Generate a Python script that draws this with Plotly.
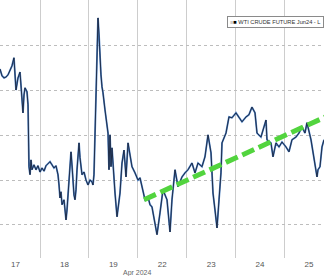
import plotly.graph_objects as go

# Trading-day positions (0 = start of Apr 17 session, 1 = Apr 18, ... weekend skipped)
day_labels = ["17", "18", "19", "22", "23", "24", "25"]

t = [0.182, 0.223, 0.264, 0.305, 0.346, 0.387, 0.427, 0.468, 0.489, 0.509, 0.550, 0.591,
     0.611, 0.652, 0.673, 0.693, 0.734, 0.755, 0.775, 0.796, 0.816, 0.836, 0.877, 0.918,
     0.959, 1.000, 1.041, 1.082, 1.123, 1.164, 1.205, 1.245, 1.286, 1.327, 1.368, 1.389,
     1.409, 1.429, 1.450, 1.491, 1.511, 1.532, 1.552, 1.573, 1.593, 1.614, 1.634, 1.654,
     1.675, 1.695, 1.716, 1.736, 1.757, 1.777, 1.798, 1.818, 1.839, 1.859, 1.900, 1.941,
     1.982, 2.023, 2.063, 2.084, 2.104, 2.125, 2.145, 2.166, 2.186, 2.207, 2.227, 2.247,
     2.268, 2.288, 2.329, 2.370, 2.391, 2.411, 2.432, 2.452, 2.472, 2.534, 2.575, 2.636,
     2.677, 2.718, 2.759, 2.800, 2.881, 2.943, 3.004, 3.045, 3.086, 3.147, 3.209, 3.250,
     3.290, 3.352, 3.393, 3.454, 3.515, 3.597, 3.659, 3.699, 3.761, 3.822, 3.904, 3.965,
     4.027, 4.108, 4.170, 4.231, 4.313, 4.374, 4.436, 4.497, 4.538, 4.579, 4.620, 4.661,
     4.701, 4.722, 4.804, 4.865, 4.926, 5.008, 5.070, 5.131, 5.213, 5.274, 5.335, 5.397,
     5.438, 5.519, 5.581, 5.622, 5.642, 5.724, 5.765, 5.826, 5.888, 5.949, 6.031, 6.092,
     6.153, 6.235, 6.297, 6.358, 6.419, 6.460, 6.542, 6.603, 6.665, 6.685, 6.726, 6.767,
     6.808]

price = [84.48, 84.33, 84.28, 84.30, 84.35, 84.46, 84.55, 84.73, 84.46, 84.01, 84.28, 84.41,
         84.12, 83.50, 83.90, 84.06, 83.97, 83.68, 82.30, 82.12, 82.45, 82.23, 82.34, 82.23,
         82.32, 82.18, 82.27, 82.20, 82.32, 82.36, 82.41, 82.34, 82.27, 82.32, 82.12, 81.89,
         81.60, 81.74, 81.45, 81.56, 81.29, 81.11, 81.33, 81.65, 81.78, 82.12, 82.63, 82.34,
         81.96, 81.67, 81.56, 81.78, 82.23, 82.63, 82.83, 82.50, 82.34, 82.12, 82.18, 82.00,
         81.89, 82.00, 81.96, 81.89, 82.12, 83.12, 84.08, 85.13, 85.62, 85.24, 84.68, 84.35,
         84.08, 83.95, 83.57, 83.19, 83.05, 82.23, 83.01, 82.30, 82.72, 81.71, 81.18, 81.71,
         82.38, 82.67, 82.07, 82.83, 82.30, 82.16, 82.00, 82.05, 81.85, 81.56, 81.62, 81.45,
         81.40, 81.04, 80.78, 81.27, 81.78, 81.56, 80.84, 81.56, 82.23, 81.85, 82.07, 82.16,
         82.23, 82.38, 82.16, 82.38, 82.30, 82.52, 83.01, 82.61, 81.71, 81.33, 80.93, 81.56,
         82.16, 82.83, 83.05, 83.41, 83.39, 83.50, 83.39, 83.30, 83.41, 83.46, 83.63, 83.50,
         83.05, 82.96, 83.19, 83.34, 82.90, 82.83, 82.52, 82.83, 82.74, 82.85, 82.74, 82.63,
         82.90, 82.96, 83.05, 83.19, 83.05, 83.28, 82.90, 82.52, 82.07, 82.23, 82.30, 82.74,
         82.90]

trend_t = [3.127, 7.0]
trend_price = [81.56, 83.49]

price_grid = [81, 82, 83, 84, 85, 86]

fig = go.Figure()
fig.add_trace(go.Scatter(x=t, y=price, mode="lines", name="WTI CRUDE FUTURE Jun24 - Last Price",
                         line=dict(color="#4a7fc4", width=1.8), showlegend=False, hoverinfo="skip"))
fig.add_trace(go.Scatter(x=t, y=price, mode="lines", name="WTI CRUDE FUTURE Jun24",
                         line=dict(color="#151a2c", width=0.8), showlegend=False))
fig.add_trace(go.Scatter(x=trend_t, y=trend_price, mode="lines", name="trend",
                         line=dict(color="#52d43e", width=5, dash="13px,5px"), showlegend=False))

fig.update_layout(
    width=324, height=276,
    margin=dict(l=0, r=0, t=0, b=18),
    paper_bgcolor="white", plot_bgcolor="white",
    font=dict(family="Liberation Sans, Arial, sans-serif", size=8, color="#555555"),
    xaxis=dict(
        range=[0.182, 6.808],
        tickmode="array",
        tickvals=[i + 0.5 for i in range(len(day_labels))],
        ticktext=day_labels,
        showgrid=False, zeroline=False, ticks="", ticklen=0,
        tickfont=dict(size=8, color="#555555"),
        minor=dict(tickmode="linear", tick0=0, dtick=1, showgrid=True,
                   gridcolor="#cdcdcd", gridwidth=1, ticks=""),
        showline=False,
    ),
    yaxis=dict(
        range=[80.26, 86.02],
        tickmode="array", tickvals=price_grid,
        showticklabels=False, zeroline=False, ticks="",
        showgrid=True, gridcolor="#bdbdbd", gridwidth=1, griddash="dot",
    ),
    annotations=[
        dict(x=3.0, y=0, xref="x", yref="paper", yshift=-9, yanchor="top",
             text="Apr 2024", showarrow=False, font=dict(size=7, color="#666666")),
        dict(x=227 / 324, y=1 - 21.5 / 258, xref="paper", yref="paper",
             xanchor="left", yanchor="middle", showarrow=False,
             text="<span style='color:#aaaaaa'>≡</span><span style='color:#000'>■</span> WTI CRUDE FUTURE Jun24 - L",
             font=dict(family="Liberation Sans, sans-serif", size=5.7, color="#333333"),
             bgcolor="white", bordercolor="#8a8a8a", borderwidth=1, borderpad=2),
    ],
)

fig.write_html("out.html")
